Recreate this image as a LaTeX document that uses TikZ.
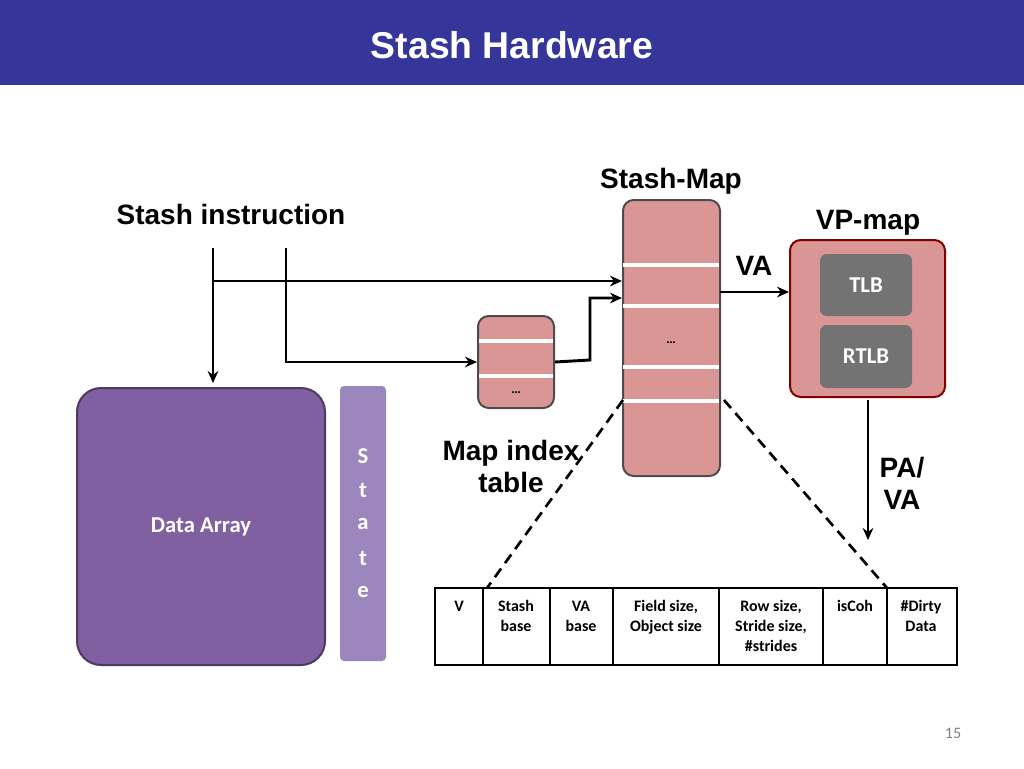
\documentclass[tikz,border=0pt]{standalone}
\usepackage{fontspec}
\setmainfont{Carlito}
\newfontfamily\narrow{Liberation Sans}
\usetikzlibrary{arrows.meta}
\definecolor{barblue}{RGB}{53,53,154}
\definecolor{mappink}{RGB}{218,150,148}
\definecolor{arraypurple}{RGB}{128,96,160}
\definecolor{statepurple}{RGB}{155,135,190}
\tikzset{
  lbl/.style={font=\narrow\bfseries\fontsize{21}{24}\selectfont, align=center},
  box/.style={draw, line width=1.5pt, rounded corners=8pt},
  arr/.style={line width=2.2pt, -{Stealth[length=9pt,width=8pt]}},
  sep/.style={white, line width=2.5pt},
  cell/.style={font=\bfseries\fontsize{12}{15}\selectfont, align=center, anchor=north}
}
\begin{document}
\begin{tikzpicture}[x=0.75pt,y=-0.75pt]
  \useasboundingbox (0,0) rectangle (1024,768);
  \fill[barblue] (0,0) rectangle (1024,85);
  \node[white, font=\narrow\bfseries\fontsize{28}{32}\selectfont] (title) at (512,45) {Stash Hardware};
  % labels
  \node[lbl] (instr) at (231,214) {Stash instruction};
  \node[lbl] (smlbl) at (671,181) {Stash-Map};
  \node[lbl] (vplbl) at (868,223) {VP-map};
  \node[lbl] (valbl) at (754,266) {VA};
  \node[lbl] (milbl) at (511,466) {Map index\\table};
  \node[lbl] (palbl) at (902,483) {PA/\\VA};
  % stash-map
  \node[box, draw=black!70, fill=mappink, minimum width=97*0.75pt, minimum height=276*0.75pt] (smap) at (671.5,338) {};
  \foreach \y in {265,306,367,401} \draw[sep] (623,\y) -- (719,\y);
  \node[font=\bfseries] (sdots) at (671,343) {\dots};
  % vp-map
  \node[box, draw=red!50!black, fill=mappink, minimum width=155*0.75pt, minimum height=157*0.75pt] (vpmap) at (867.5,318.5) {};
  \node[fill=black!55, rounded corners=5pt, text=white, minimum width=92*0.75pt, minimum height=62*0.75pt, font=\bfseries\fontsize{17}{20}\selectfont] (tlb) at (866,285) {TLB};
  \node[fill=black!55, rounded corners=5pt, text=white, minimum width=92*0.75pt, minimum height=63*0.75pt, font=\bfseries\fontsize{17}{20}\selectfont] (rtlb) at (866,356.5) {RTLB};
  % map index table
  \node[box, draw=black!70, fill=mappink, minimum width=76*0.75pt, minimum height=92*0.75pt] (mit) at (516,362) {};
  \foreach \y in {341,376} \draw[sep] (479,\y) -- (553,\y);
  \node[font=\bfseries] (mdots) at (516,393) {\dots};
  % data array and state
  \node[box, draw=arraypurple!60!black, fill=arraypurple, minimum width=248*0.75pt, minimum height=277*0.75pt, rounded corners=18pt, text=white, font=\bfseries\fontsize{17}{20}\selectfont] (darr) at (201,526.5) {Data Array};
  \node[fill=statepurple, rounded corners=3pt, minimum width=46*0.75pt, minimum height=275*0.75pt] (state) at (363,523.5) {};
  \foreach \c [count=\i] in {S,t,a,t,e}
    \node[white, font=\bfseries\fontsize{17}{20}\selectfont] (st\i) at (363,422+34*\i) {\c};
  % connectors
  \coordinate (s1) at (213,248);
  \coordinate (s2) at (286,248);
  \coordinate (j1) at (213,281);
  \draw[arr] (s1) -- (213,383);
  \draw[arr] (j1) -- (622,281);
  \draw[arr] (s2) |- (mit.west);
  \draw[arr] (mit.east) -- (590,360) |- (622,298);
  \draw[arr] (720,292) -- (vpmap.west |- 0,292);
  \draw[arr] (868,400) -- (868,540);
  % table
  \draw[line width=1pt] (435,588) rectangle (957,665);
  \foreach \x in {483,550,613,719,823,887} \draw[line width=1pt] (\x,588) -- (\x,665);
  \node[cell] (c1) at (459,596) {V};
  \node[cell] (c2) at (516,596) {Stash\\base};
  \node[cell] (c3) at (581,596) {VA\\base};
  \node[cell] (c4) at (666,596) {Field size,\\Object size};
  \node[cell] (c5) at (771,596) {Row size,\\Stride size,\\\#strides};
  \node[cell] (c6) at (855,596) {isCoh};
  \node[cell] (c7) at (921,596) {\#Dirty\\Data};
  \draw[dashed, line width=2pt, dash pattern=on 8pt off 5pt] (623,400) -- (487,588);
  \draw[dashed, line width=2pt, dash pattern=on 8pt off 5pt] (724,400) -- (887,588);
  \node[black!50, font=\fontsize{12}{14}\selectfont] (pg) at (953,733) {15};
\end{tikzpicture}
\end{document}
